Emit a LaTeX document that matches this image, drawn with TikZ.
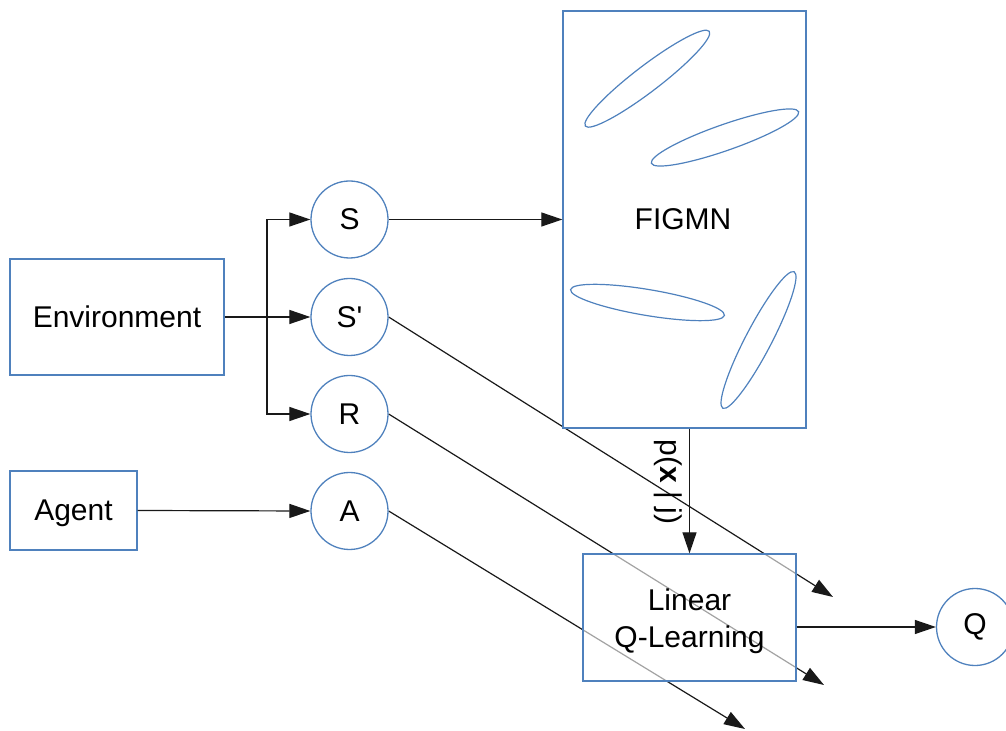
\documentclass[tikz,border=0pt]{standalone}
\usepackage{fontspec}
\setmainfont{Liberation Sans}
\usetikzlibrary{arrows.meta,backgrounds}

\definecolor{edgeblue}{RGB}{79,129,189}
\definecolor{wire}{RGB}{25,25,25}

\tikzset{
  box/.style={draw=edgeblue, line width=0.65pt, inner sep=0pt, align=center,
              font=\fontsize{15}{18.5}\selectfont},
  var/.style={draw=edgeblue, line width=0.65pt, circle, inner sep=0pt,
              minimum size=38.5pt, font=\fontsize{15}{18}\selectfont},
  txt/.style={inner sep=0pt, align=center, font=\fontsize{15}{18.5}\selectfont},
  blob/.style={draw=edgeblue, line width=0.6pt},
  flow/.style={draw=wire, line width=0.6pt,
               -{Triangle[length=10.5pt,width=7pt]}},
  plain/.style={draw=wire, line width=0.6pt}
}

\begin{document}
\begin{tikzpicture}[x=0.5pt,y=-0.5pt]
  \useasboundingbox (0,0) rectangle (1006,731);

  % inputs
  \node[box, minimum width=107pt, minimum height=58pt] (env) at (117,317) {Environment};
  \node[box, minimum width=63.5pt, minimum height=39.5pt, text depth=0pt] (agent) at (73.5,510.5) {Agent};

  % observed variables
  \node[var] (s)  at (349.5,219.5) {S};
  \node[var] (sp) at (349.5,317)   {S\textquotesingle};
  \node[var] (r)  at (349.5,414)   {R};
  \node[var] (a)  at (349.5,511)   {A};

  % mixture model
  \node[box, minimum width=121.5pt, minimum height=208.5pt] (figmn) at (684.5,219.5) {};
  \node[txt] (figmnlabel) at (683,219.5) {FIGMN};
  \draw[blob, rotate around={37.4:(647.3,78.7)}] (647.3,78.7) ellipse [x radius=39pt, y radius=6.5pt];
  \draw[blob, rotate around={19.3:(725,137.5)}] (725,137.5) ellipse [x radius=39pt, y radius=6.5pt];
  \draw[blob, rotate around={-9.5:(647.5,302.5)}] (647.5,302.5) ellipse [x radius=39pt, y radius=6.5pt];
  \draw[blob, rotate around={62.4:(758.5,340)}] (758.5,340) ellipse [x radius=38.5pt, y radius=6.5pt];

  % learner and output
  \node[box, minimum width=106.5pt, minimum height=63.5pt, fill=white, fill opacity=0.6]
       (lin) at (689.5,617.5) {};
  \node[txt] (linlabel) at (689.5,621) {Linear\\Q-Learning};
  \node[var] (q) at (975,627) {Q};

  % loose ends of the crossing arrows
  \coordinate (spend) at (833,597);
  \coordinate (rend)  at (824,685);
  \coordinate (aend)  at (745,729);

  \begin{scope}[on background layer]
    \draw[flow] (sp.east) -- (spend);
    \draw[flow] (r.east)  -- (rend);
    \draw[flow] (a.east)  -- (aend);
  \end{scope}

  % environment fan-out
  \coordinate (fork) at (267,317);
  \draw[plain] (env.east) -- (fork);
  \draw[flow] (fork) -- (sp.west);
  \draw[flow] (fork) |- (s.west);
  \draw[flow] (fork) |- (r.west);
  \draw[flow] (agent.east) -- (a.west);

  \draw[flow] (s.east) -- (figmn.west |- s.east);
  \draw[flow] (figmn.south -| lin.north) -- (lin.north);
  \node[txt, rotate=-90, font=\fontsize{15}{18}\selectfont] (plabel) at (668,482) {p(\textbf{x} | j)};
  \draw[flow] (lin.east |- q.west) -- (q.west);
\end{tikzpicture}
\end{document}
